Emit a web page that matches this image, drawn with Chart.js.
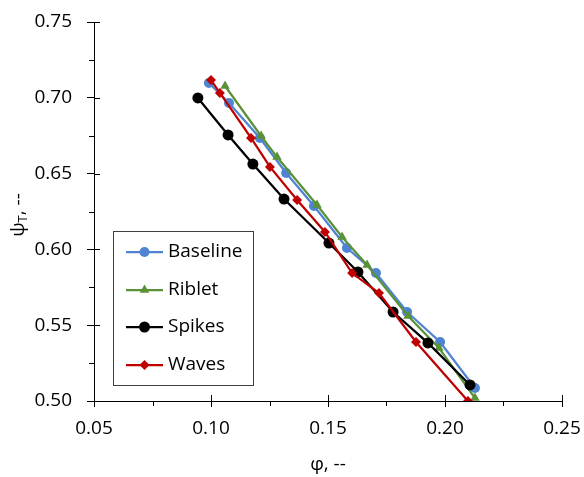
<!DOCTYPE html>
<html><head><meta charset="utf-8">
<script src="https://cdn.jsdelivr.net/npm/chart.js@4"></script>
<style>html,body{margin:0;padding:0;background:#fff}#wrap{width:584px;height:477px}</style>
</head><body><div id="wrap"><canvas id="c" width="584" height="477"></canvas></div>
<script>
const seriesNames = ['Baseline', 'Riblet', 'Spikes', 'Waves'];
const baselinePhi = [0.0991, 0.1077, 0.1209, 0.1321, 0.1440, 0.1581, 0.1705, 0.1838, 0.1979, 0.2128];
const baselinePsi = [0.7098, 0.6966, 0.6735, 0.6504, 0.6286, 0.6009, 0.5844, 0.5587, 0.5389, 0.5086];
const ribletPhi = [0.1060, 0.1214, 0.1282, 0.1453, 0.1560, 0.1667, 0.1842, 0.1974, 0.2128];
const ribletPsi = [0.7078, 0.6748, 0.6609, 0.6293, 0.6082, 0.5897, 0.5561, 0.5350, 0.5020];
const spikesPhi = [0.0944, 0.1073, 0.1179, 0.1312, 0.1504, 0.1628, 0.1778, 0.1927, 0.2107];
const spikesPsi = [0.6999, 0.6755, 0.6563, 0.6332, 0.6042, 0.5851, 0.5587, 0.5383, 0.5106];
const wavesPhi = [0.1000, 0.1038, 0.1171, 0.1252, 0.1368, 0.1487, 0.1603, 0.1718, 0.1876, 0.2098];
const wavesPsi = [0.7117, 0.7032, 0.6735, 0.6544, 0.6326, 0.6115, 0.5844, 0.5712, 0.5389, 0.5000];
const xTicks = [0.05, 0.10, 0.15, 0.20, 0.25];
const yTicks = [0.50, 0.55, 0.60, 0.65, 0.70, 0.75];
const xMinor = [0.075, 0.125, 0.175, 0.225];
const yMinor = [0.525, 0.575, 0.625, 0.675, 0.725];
const xTitle = 'φ, --';
const yTitleMain = 'ψ', yTitleSub = 'T', yTitleRest = ', --';

const FONT = '"Open Sans", "Noto Sans", sans-serif';
const FS = 19;

function pts(xs, ys) { return xs.map((x, i) => ({ x: x, y: ys[i] })); }

const styles = [
  { color: '#4E84D2', point: 'circle', r: 5 },
  { color: '#5B9138', point: 'triangle', r: 5.5 },
  { color: '#000000', point: 'circle', r: 5.5 },
  { color: '#C00000', point: 'rectRot', r: 5 }
];
const allData = [pts(baselinePhi, baselinePsi), pts(ribletPhi, ribletPsi), pts(spikesPhi, spikesPsi), pts(wavesPhi, wavesPsi)];

const datasets = seriesNames.map((n, i) => ({
  label: n,
  data: allData[i],
  order: seriesNames.length - 1 - i,
  borderColor: styles[i].color,
  backgroundColor: styles[i].color,
  pointBackgroundColor: styles[i].color,
  pointBorderColor: styles[i].color,
  pointStyle: styles[i].point,
  pointRadius: styles[i].r,
  pointBorderWidth: 0,
  borderWidth: 2.25,
  showLine: true,
  tension: 0,
  fill: false
}));

const extras = {
  id: 'extras',
  afterDraw(chart) {
    const ctx = chart.ctx;
    const xs = chart.scales.x, ys = chart.scales.y;
    const ca = chart.chartArea;
    ctx.save();
    ctx.strokeStyle = '#000';
    ctx.lineWidth = 1;
    ctx.beginPath();
    xTicks.forEach(v => { const p = Math.round(xs.getPixelForValue(v)) + 0.5; ctx.moveTo(p, ca.bottom); ctx.lineTo(p, ca.bottom - 6); });
    yTicks.forEach(v => { const p = Math.round(ys.getPixelForValue(v)) + 0.5; ctx.moveTo(ca.left, p); ctx.lineTo(ca.left + 6, p); });
    xMinor.forEach(v => { const p = Math.round(xs.getPixelForValue(v)) + 0.5; ctx.moveTo(p, ca.bottom); ctx.lineTo(p, ca.bottom + 5); });
    yMinor.forEach(v => { const p = Math.round(ys.getPixelForValue(v)) + 0.5; ctx.moveTo(ca.left, p); ctx.lineTo(ca.left - 5, p); });
    ctx.stroke();

    // axis titles
    ctx.fillStyle = '#000';
    ctx.font = FS + 'px ' + FONT;
    ctx.textAlign = 'center';
    ctx.textBaseline = 'middle';
    ctx.fillText(xTitle, (ca.left + ca.right) / 2, 465);

    ctx.save();
    ctx.translate(18, 215);
    ctx.rotate(-Math.PI / 2);
    ctx.textAlign = 'left';
    ctx.textBaseline = 'alphabetic';
    const fMain = FS + 'px ' + FONT, fSub = Math.round(FS * 0.7) + 'px ' + FONT;
    ctx.font = fMain; const w1 = ctx.measureText(yTitleMain).width;
    ctx.font = fSub; const w2 = ctx.measureText(yTitleSub).width;
    ctx.font = fMain; const w3 = ctx.measureText(yTitleRest).width;
    let x0 = -(w1 + w2 + w3) / 2;
    const base = 6;
    ctx.font = fMain; ctx.fillText(yTitleMain, x0, base); x0 += w1;
    ctx.font = fSub; ctx.fillText(yTitleSub, x0, base + 3); x0 += w2;
    ctx.font = fMain; ctx.fillText(yTitleRest, x0, base);
    ctx.restore();

    // legend
    const bx = 113.5, by = 231.5, bw = 140, bh = 154;
    ctx.strokeStyle = '#404040';
    ctx.lineWidth = 1;
    ctx.strokeRect(bx, by, bw, bh);
    const rowY = [252, 290, 327, 365];
    seriesNames.forEach((name, i) => {
      const ds = chart.data.datasets[i];
      const y = rowY[i];
      ctx.strokeStyle = ds.borderColor;
      ctx.lineWidth = 2.25;
      ctx.beginPath(); ctx.moveTo(126, y); ctx.lineTo(163, y); ctx.stroke();
      ctx.fillStyle = ds.backgroundColor;
      Chart.helpers.drawPoint(ctx, { pointStyle: ds.pointStyle, radius: ds.pointRadius, borderWidth: 0, rotation: 0 }, 144.5, y);
      ctx.fillStyle = '#000';
      ctx.font = FS + 'px ' + FONT;
      ctx.textAlign = 'left';
      ctx.textBaseline = 'middle';
      ctx.fillText(name, 168, y);
    });
    ctx.restore();
  }
};

new Chart(document.getElementById('c'), {
  type: 'line',
  data: { datasets: datasets },
  options: {
    responsive: false,
    animation: false,
    devicePixelRatio: 1,
    layout: { padding: { top: 22, right: 22, left: 0, bottom: 0 } },
    plugins: { legend: { display: false }, tooltip: { enabled: false } },
    scales: {
      x: {
        type: 'linear', min: 0.05, max: 0.25,
        afterBuildTicks: s => { s.ticks = xTicks.map(v => ({ value: v })); },
        afterFit: s => { s.height = 76; s.paddingLeft = 0; s.paddingRight = 0; s.paddingTop = 0; s.paddingBottom = 0; },
        ticks: { callback: v => Number(v).toFixed(2), color: '#000', font: { family: FONT, size: FS }, padding: 10, maxRotation: 0, autoSkip: false },
        grid: { display: true, drawOnChartArea: false, drawTicks: true, tickLength: 6, color: '#000', lineWidth: 1 },
        border: { display: true, color: '#000', width: 1 }
      },
      y: {
        type: 'linear', min: 0.5, max: 0.75,
        afterBuildTicks: s => { s.ticks = yTicks.map(v => ({ value: v })); },
        afterFit: s => { s.width = 94; s.paddingLeft = 0; s.paddingRight = 0; s.paddingTop = 0; s.paddingBottom = 0; },
        ticks: { callback: v => Number(v).toFixed(2), color: '#000', font: { family: FONT, size: FS }, padding: 15, autoSkip: false },
        grid: { display: true, drawOnChartArea: false, drawTicks: true, tickLength: 7, color: '#000', lineWidth: 1 },
        border: { display: true, color: '#000', width: 1 }
      }
    }
  },
  plugins: [extras]
});
</script>
</body></html>
